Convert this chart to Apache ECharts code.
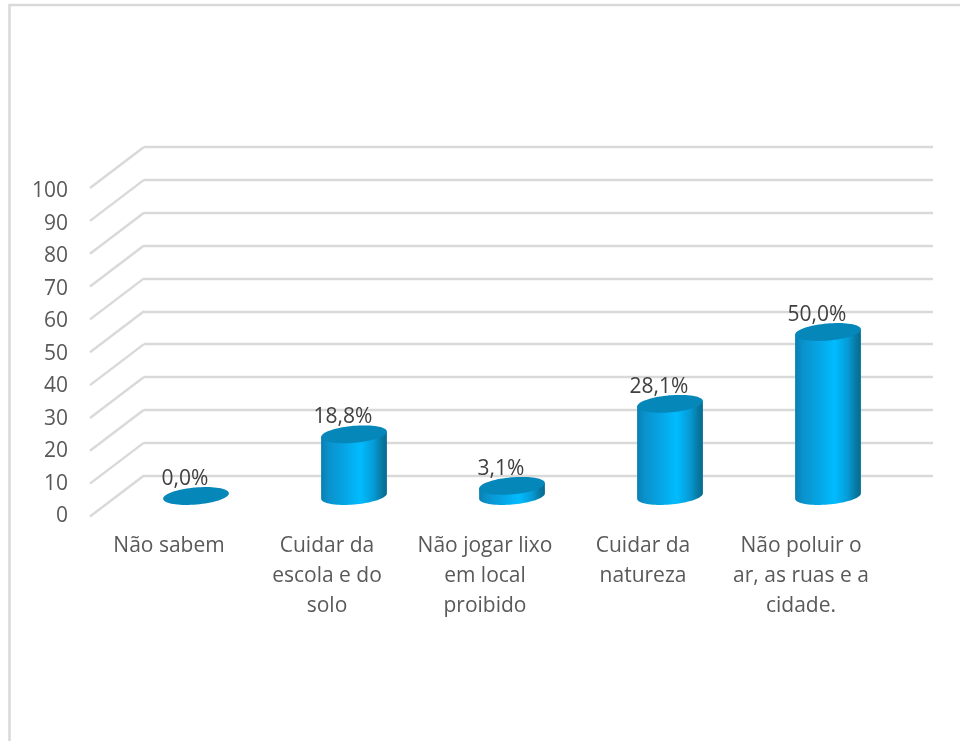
<!DOCTYPE html>
<html>
<head>
<meta charset="utf-8">
<script src="https://cdn.jsdelivr.net/npm/echarts@6/dist/echarts.min.js"></script>
<style>html,body{margin:0;padding:0;background:#fff}#chart{width:960px;height:741px}</style>
</head>
<body>
<div id="chart"></div>
<script>
const categories = ['Não sabem', 'Cuidar da\nescola e do\nsolo', 'Não jogar lixo\nem local\nproibido', 'Cuidar da\nnatureza', 'Não poluir o\nar, as ruas e a\ncidade.'];
const percentages = [0.0, 18.8, 3.1, 28.1, 50.0];
const gridTicks = [0, 10, 20, 30, 40, 50, 60, 70, 80, 90, 100];

const FONT = '"Open Sans", sans-serif';
const DEPTH = [54, 41];          // offset of the back wall from the front plane
const TILT = -5 * Math.PI / 180; // perspective tilt of the cylinder caps
const CAP_RY = 8.5;
const LINE_WIDTH = 2.4;

const sideGradient = new echarts.graphic.LinearGradient(0, 0, 1, 0, [
  { offset: 0, color: '#0a7fb2' },
  { offset: 0.12, color: '#0a92cc' },
  { offset: 0.35, color: '#06a4e4' },
  { offset: 0.6, color: '#00bcff' },
  { offset: 0.8, color: '#069bd6' },
  { offset: 0.93, color: '#07789f' },
  { offset: 1, color: '#056a94' }
]);

// Point on a tilted ellipse at parameter t
function capPoint(cx, cy, rx, t) {
  const x = rx * Math.cos(t), y = CAP_RY * Math.sin(t);
  return [cx + x * Math.cos(TILT) - y * Math.sin(TILT), cy + x * Math.sin(TILT) + y * Math.cos(TILT)];
}

function renderCylinder(params, api) {
  const value = api.value(1);
  const base = api.coord([api.value(0), 0]);
  const top = api.coord([api.value(0), value]);
  const rx = api.size([1, 0])[0] * 0.209;
  // parameters where the outline is vertical, so the sides meet the caps cleanly
  const tRight = Math.atan(-(CAP_RY / rx) * Math.tan(TILT));
  const tLeft = tRight + Math.PI;
  const body = [capPoint(top[0], top[1], rx, tLeft)];
  // lower half of the base outline, from left round to right
  for (let i = 0; i <= 40; i++) {
    const t = tLeft - (tLeft - tRight) * i / 40;
    body.push(capPoint(base[0], base[1], rx, t));
  }
  body.push(capPoint(top[0], top[1], rx, tRight));
  const cap = [];
  for (let i = 0; i < 72; i++) cap.push(capPoint(top[0], top[1], rx, i * Math.PI / 36));
  const children = [];
  if (value > 0) {
    children.push({ type: 'polygon', shape: { points: body }, style: { fill: sideGradient } });
  }
  children.push({ type: 'polygon', shape: { points: cap }, style: { fill: '#0587ba' } });
  children.push({
    type: 'text', z2: 10,
    style: {
      x: top[0] - 11, y: top[1] - 17,
      text: value.toFixed(1).replace('.', ',') + '%',
      font: '21px ' + FONT, fill: '#404040', align: 'center', verticalAlign: 'middle'
    }
  });
  return { type: 'group', children };
}

function renderDiagonal(params, api) {
  const back = api.coord([0, api.value(0)]);
  return {
    type: 'line',
    shape: { x1: back[0], y1: back[1], x2: back[0] - DEPTH[0], y2: back[1] + DEPTH[1] },
    style: { stroke: '#d9d9d9', lineWidth: LINE_WIDTH }
  };
}

const chart = echarts.init(document.getElementById('chart'), null, { renderer: 'canvas' });
chart.setOption({
  animation: false,
  backgroundColor: '#ffffff',
  graphic: [{
    type: 'polyline', silent: true, z: -1,
    shape: { points: [[9.5, 741], [9.5, 5], [960, 5]] },
    style: { stroke: '#d9d9d9', lineWidth: 2.5, fill: null }
  }],
  grid: [
    { left: 90, width: 790, top: 191.5, height: 325 },     // front plane: axis labels
    { left: 144, width: 789, top: 147, height: 328.5 },    // back wall: gridlines
    { left: 117, width: 790, top: 168, height: 328 }       // mid depth: cylinders
  ],
  xAxis: [
    {
      gridIndex: 0, type: 'category', data: categories,
      axisLine: { show: false }, axisTick: { show: false },
      axisLabel: { color: '#595959', fontFamily: FONT, fontSize: 21, lineHeight: 30, margin: 15, interval: 0 }
    },
    { gridIndex: 1, type: 'value', min: 0, max: 1, show: false },
    { gridIndex: 2, type: 'category', data: categories, show: false }
  ],
  yAxis: [
    {
      gridIndex: 0, type: 'value', min: 0, max: 100, interval: 10,
      axisLine: { show: false }, axisTick: { show: false }, splitLine: { show: false },
      axisLabel: { color: '#595959', fontFamily: FONT, fontSize: 21, margin: 22, verticalAlign: 'middle' }
    },
    {
      gridIndex: 1, type: 'value', min: 0, max: 100, interval: 10,
      axisLine: { show: false }, axisTick: { show: false }, axisLabel: { show: false },
      splitLine: { show: true, lineStyle: { color: '#d9d9d9', width: LINE_WIDTH } }
    },
    { gridIndex: 2, type: 'value', min: 0, max: 100, interval: 10, show: false }
  ],
  series: [
    {
      type: 'custom', xAxisIndex: 1, yAxisIndex: 1, silent: true, clip: false,
      renderItem: renderDiagonal, data: gridTicks.map(t => [t]), encode: { x: -1, y: 0 }
    },
    {
      type: 'custom', xAxisIndex: 2, yAxisIndex: 2, silent: true, clip: false, z: 5,
      renderItem: renderCylinder, data: percentages.map((v, i) => [i, v]), encode: { x: 0, y: 1 }
    }
  ]
});
</script>
</body>
</html>
